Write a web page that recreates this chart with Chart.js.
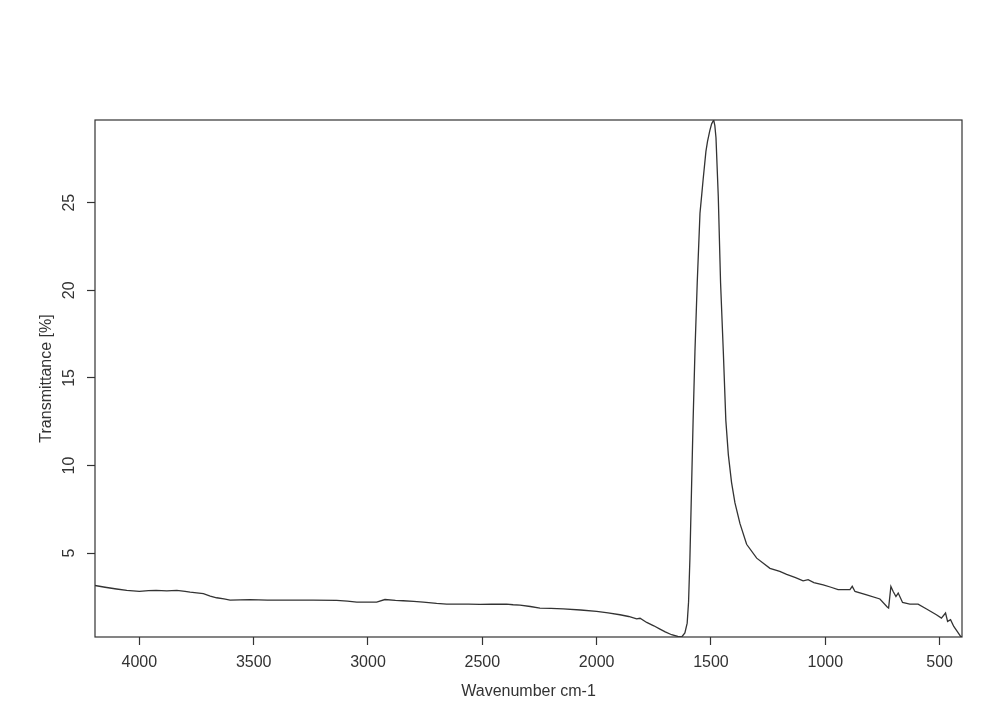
<!DOCTYPE html>
<html>
<head>
<meta charset="utf-8">
<script src="https://cdn.jsdelivr.net/npm/chart.js@4"></script>
<style>
  html, body { margin: 0; padding: 0; background: #fff; }
  #wrap { width: 996px; height: 722px; }
</style>
</head>
<body>
<div id="wrap"><canvas id="spectrum"></canvas></div>
<script>
const wavenumbers = [
  4194, 4150, 4100, 4055, 4000, 3960, 3927, 3880, 3836, 3800, 3778, 3720, 3690, 3662, 3630, 3603,
  3516, 3440, 3341, 3240, 3137, 3090, 3049, 2962, 2926, 2880, 2846, 2800, 2758, 2700, 2656, 2560,
  2510, 2460, 2394, 2365, 2335, 2290, 2248, 2200, 2146, 2070, 2000, 1950, 1898, 1860, 1825, 1810,
  1781, 1750, 1723, 1700, 1672, 1645, 1628, 1614, 1604, 1598, 1592, 1585, 1578, 1570, 1560, 1548,
  1540, 1534, 1522, 1515, 1505, 1497, 1488, 1483, 1478, 1468, 1458, 1446, 1435, 1424, 1410, 1395,
  1373, 1344, 1300, 1242, 1199, 1169, 1130, 1097, 1075, 1050, 1009, 975, 944, 892, 882, 870,
  819, 761, 729, 723, 713, 703, 691, 681, 662, 630, 594, 557, 514, 492, 474, 465,
  452, 438, 423, 408, 402
];
const transmittance = [
  3.15, 3.05, 2.95, 2.87, 2.81, 2.86, 2.87, 2.84, 2.87, 2.82, 2.77, 2.68, 2.55, 2.45, 2.38, 2.32,
  2.34, 2.32, 2.32, 2.31, 2.30, 2.26, 2.20, 2.20, 2.35, 2.30, 2.28, 2.24, 2.20, 2.13, 2.09, 2.09,
  2.07, 2.08, 2.09, 2.05, 2.03, 1.95, 1.86, 1.84, 1.81, 1.75, 1.67, 1.59, 1.48, 1.38, 1.24, 1.28,
  1.04, 0.85, 0.66, 0.50, 0.34, 0.24, 0.21, 0.44, 1.00, 2.20, 4.70, 8.65, 12.6, 16.5, 20.45, 24.4,
  25.5, 26.35, 27.93, 28.5, 29.11, 29.5, 29.72, 29.4, 28.71, 25.37, 20.45, 16.52, 12.59, 10.62, 9.04, 7.86,
  6.68, 5.50, 4.71, 4.13, 3.95, 3.78, 3.60, 3.42, 3.48, 3.32, 3.19, 3.05, 2.91, 2.91, 3.10, 2.81,
  2.62, 2.38, 1.92, 1.86, 3.10, 2.81, 2.52, 2.72, 2.18, 2.09, 2.09, 1.81, 1.48, 1.29, 1.58, 1.10,
  1.20, 0.81, 0.53, 0.24, 0.21
];
const xTicks = [4000, 3500, 3000, 2500, 2000, 1500, 1000, 500];
const yTicks = [5, 10, 15, 20, 25];

const ink = "#333";
const font = "16px 'Liberation Sans', Arial, sans-serif";

// R-style frame, rotated y labels and axis titles
const rStyle = {
  id: "rStyle",
  afterDraw(chart) {
    const { ctx, chartArea: a, scales } = chart;
    ctx.save();
    ctx.strokeStyle = ink;
    ctx.lineWidth = 1.2;
    ctx.strokeRect(a.left, a.top, a.right - a.left, a.bottom - a.top);

    ctx.fillStyle = ink;
    ctx.font = font;
    ctx.textAlign = "center";
    ctx.textBaseline = "alphabetic";
    yTicks.forEach(v => {
      const y = scales.y.getPixelForValue(v);
      ctx.save();
      ctx.translate(74, y);
      ctx.rotate(-Math.PI / 2);
      ctx.fillText(String(v), 0, 0);
      ctx.restore();
    });

    ctx.save();
    ctx.translate(51, (a.top + a.bottom) / 2);
    ctx.rotate(-Math.PI / 2);
    ctx.fillText("Transmittance [%]", 0, 0);
    ctx.restore();

    ctx.fillText("Wavenumber cm-1", (a.left + a.right) / 2, 696);
    ctx.restore();
  }
};

new Chart(document.getElementById("spectrum"), {
  type: "line",
  data: {
    datasets: [{
      label: "Transmittance",
      data: wavenumbers.map((w, i) => ({ x: w, y: transmittance[i] })),
      borderColor: ink,
      borderWidth: 1.3,
      pointRadius: 0,
      tension: 0,
      fill: false
    }]
  },
  options: {
    responsive: true,
    maintainAspectRatio: false,
    animation: false,
    layout: { padding: { left: 0, top: 120, right: 34, bottom: 0 } },
    plugins: { legend: { display: false }, tooltip: { enabled: false } },
    scales: {
      x: {
        type: "linear",
        reverse: true,
        min: 402,
        max: 4194,
        afterBuildTicks: s => { s.ticks = xTicks.map(v => ({ value: v })); },
        afterFit: s => { s.height = 85; },
        grid: { drawOnChartArea: false, tickLength: 8, tickColor: ink, tickWidth: 1.2 },
        border: { display: false },
        ticks: {
          color: ink,
          font: { family: "'Liberation Sans', Arial, sans-serif", size: 16 },
          padding: 8,
          maxRotation: 0,
          autoSkip: false,
          callback: v => String(v)
        }
      },
      y: {
        type: "linear",
        min: 0.21,
        max: 29.72,
        afterBuildTicks: s => { s.ticks = yTicks.map(v => ({ value: v })); },
        afterFit: s => { s.width = 95; },
        grid: { drawOnChartArea: false, tickLength: 8, tickColor: ink, tickWidth: 1.2 },
        border: { display: false },
        ticks: { display: false }
      }
    }
  },
  plugins: [rStyle]
});
</script>
</body>
</html>
